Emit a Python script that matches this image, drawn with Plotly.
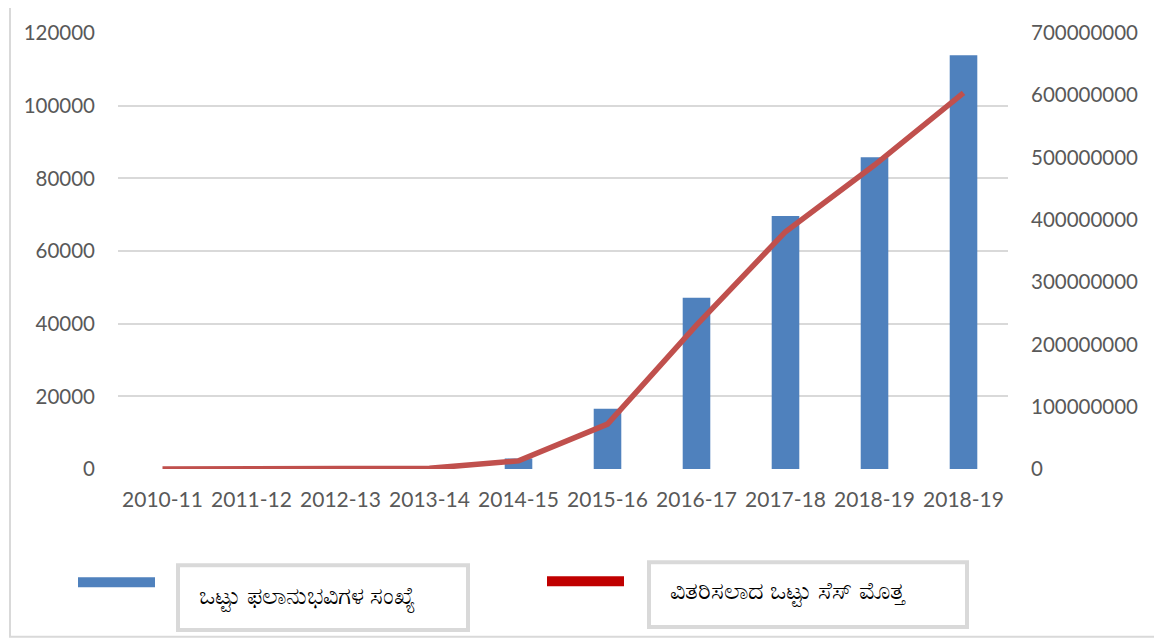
import plotly.graph_objects as go

categories = ["2010-11", "2011-12", "2012-13", "2013-14", "2014-15",
              "2015-16", "2016-17", "2017-18", "2018-19", "2018-19"]
beneficiaries = [0, 0, 20, 100, 2900, 16600, 47100, 69600, 85800, 113900]
cess_total = [0, 200000, 600000, 1200000, 13000000, 72000000,
              231000000, 381000000, 488000000, 604000000]
left_ticks = [0, 20000, 40000, 60000, 80000, 100000, 120000]
right_ticks = [0, 100000000, 200000000, 300000000, 400000000,
               500000000, 600000000, 700000000]
legend_bar = "ಒಟ್ಟು ಫಲಾನುಭವಿಗಳ ಸಂಖ್ಯೆ"
legend_line = "ವಿತರಿಸಲಾದ ಒಟ್ಟು ಸೆಸ್ ಮೊತ್ತ"

xpos = list(range(len(categories)))
FONT = "Lato, 'Open Sans', sans-serif"
TICKC = "#595959"

# page offset (body margin 8px)
OFF = 8
PL, PR, PT, PB = 118, 1008, 30, 469  # plot area in page pixels
W, H = 1154, 635

fig = go.Figure()
fig.add_trace(go.Bar(x=xpos, y=beneficiaries, marker_color="#4f81bd",
                     marker_line_width=0, width=0.31, name=legend_bar,
                     yaxis="y"))
fig.add_trace(go.Scatter(x=xpos, y=cess_total, mode="lines",
                         line=dict(color="#c0504d", width=5.5),
                         name=legend_line, yaxis="y2"))

fig.update_layout(
    width=W, height=H,
    margin=dict(l=PL - OFF, r=W - (PR - OFF), t=PT - OFF, b=H - (PB - OFF)),
    paper_bgcolor="white", plot_bgcolor="white",
    showlegend=False,
    font=dict(family=FONT, size=20.5, color=TICKC),
    xaxis=dict(tickvals=xpos, ticktext=categories, range=[-0.5, 9.5],
               showgrid=False, zeroline=False, showline=False,
               ticks="", ticklabelstandoff=16, tickfont=dict(size=21)),
    yaxis=dict(range=[0, 120000], tickvals=left_ticks,
               ticktext=[str(v) for v in left_ticks],
               showgrid=True, gridcolor="#d9d9d9", gridwidth=1.5,
               zeroline=False, showline=False, ticks="",
               ticklabelstandoff=22),
    yaxis2=dict(range=[0, 700000000], tickvals=right_ticks,
                ticktext=[str(v) for v in right_ticks],
                overlaying="y", side="right", showgrid=False,
                zeroline=False, showline=False, ticks="",
                ticklabelstandoff=22),
)

def px_x(p):
    return (p - PL) / (PR - PL)

def px_y(p):
    return (PB - p) / (PB - PT)

# outer chart border
fig.add_shape(type="rect", xref="paper", yref="paper",
              x0=px_x(10), x1=px_x(1157), y0=px_y(638), y1=px_y(-10),
              line=dict(color="#d9d9d9", width=2), layer="below")

# custom legend
fig.add_shape(type="line", xref="paper", yref="paper",
              x0=px_x(78), x1=px_x(155), y0=px_y(583), y1=px_y(583),
              line=dict(color="#4f81bd", width=10))
fig.add_shape(type="rect", xref="paper", yref="paper",
              x0=px_x(178), x1=px_x(468), y0=px_y(631), y1=px_y(566),
              line=dict(color="#d9d9d9", width=4))
fig.add_annotation(xref="paper", yref="paper", x=px_x(197), y=px_y(598),
                   text=legend_bar, showarrow=False, xanchor="left",
                   yanchor="middle", font=dict(size=23.5, color="black"))

fig.add_shape(type="line", xref="paper", yref="paper",
              x0=px_x(547), x1=px_x(624), y0=px_y(582), y1=px_y(582),
              line=dict(color="#c00000", width=10))
fig.add_shape(type="rect", xref="paper", yref="paper",
              x0=px_x(649), x1=px_x(967), y0=px_y(628), y1=px_y(563),
              line=dict(color="#d9d9d9", width=4))
fig.add_annotation(xref="paper", yref="paper", x=px_x(668), y=px_y(592),
                   text=legend_line, showarrow=False, xanchor="left",
                   yanchor="middle", font=dict(size=23.5, color="black"))

fig.write_html("out.html")
